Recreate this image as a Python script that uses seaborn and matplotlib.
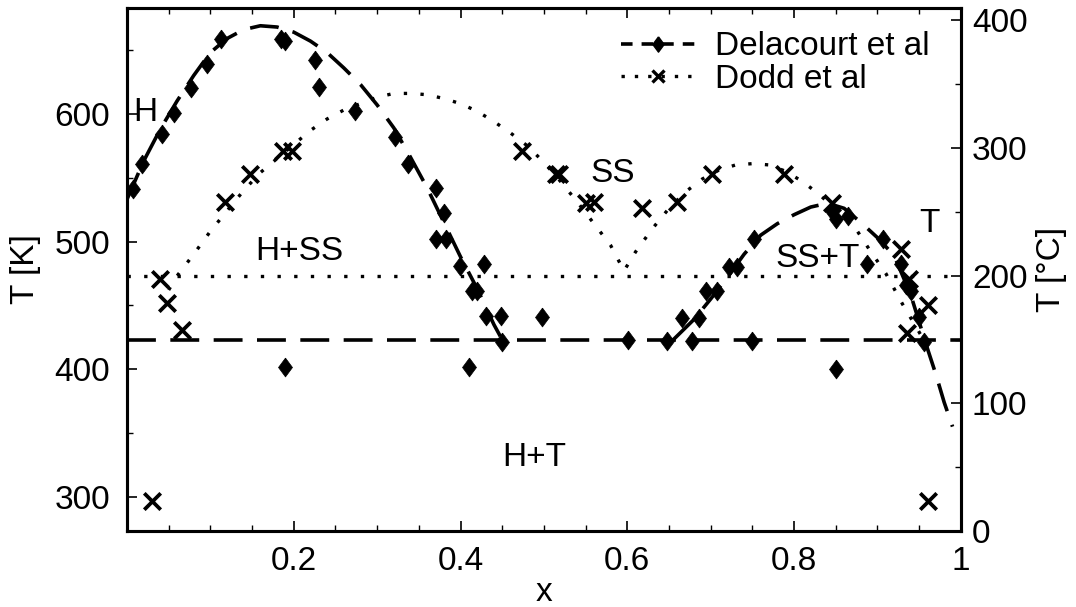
import matplotlib
matplotlib.use("Agg")
import matplotlib.pyplot as plt
from matplotlib.lines import Line2D
from matplotlib.ticker import MultipleLocator, FixedLocator
import numpy as np
import pandas as pd
import seaborn as sns

# ---- Delacourt et al: measured points (x, T in K)
delacourt_x = [0.007, 0.018, 0.042, 0.056, 0.077, 0.096, 0.113, 0.185, 0.190,
               0.226, 0.230, 0.273, 0.322, 0.337, 0.370, 0.380, 0.371, 0.383,
               0.399, 0.428, 0.414, 0.420, 0.431, 0.449, 0.450, 0.498, 0.190,
               0.410, 0.601, 0.648, 0.678, 0.749, 0.665, 0.686, 0.694, 0.707,
               0.722, 0.732, 0.752, 0.845, 0.850, 0.865, 0.907, 0.887, 0.928,
               0.934, 0.940, 0.950, 0.956, 0.850]
delacourt_T = [541, 561, 584, 601, 620, 639, 659, 659, 657,
               642, 621, 602, 582, 561, 542, 522, 502, 502,
               481, 482, 461, 461, 442, 442, 421, 441, 402,
               402, 423, 422, 422, 422, 440, 440, 461, 461,
               480, 480, 502, 524, 518, 520, 502, 482, 482,
               466, 461, 441, 421, 400]

# Delacourt et al: phase boundary traces (x, T in K)
delacourt_left_x = [0.0, 0.02, 0.04, 0.06, 0.08, 0.10, 0.12, 0.14, 0.16, 0.18,
                    0.20, 0.22, 0.24, 0.26, 0.28, 0.30, 0.32, 0.34, 0.36, 0.38,
                    0.40, 0.42, 0.44, 0.45]
delacourt_left_T = [533, 563, 588, 610, 630, 648, 659, 666, 669, 668,
                    664, 657, 648, 636, 623, 607, 589, 566, 542, 515,
                    488, 463, 435, 423]
delacourt_right_x = [0.655, 0.68, 0.70, 0.72, 0.74, 0.76, 0.78, 0.80, 0.82,
                     0.84, 0.86, 0.88, 0.90, 0.92, 0.94, 0.95, 0.96, 0.97,
                     0.98, 0.99]
delacourt_right_T = [423, 439, 455, 472, 490, 505, 514, 521, 527,
                     530, 526, 515, 503, 489, 458, 437, 416, 396,
                     374, 355]
delacourt_eutectic_T = 423

# ---- Dodd et al: measured points (x, T in K)
dodd_x = [0.030, 0.040, 0.048, 0.066, 0.117, 0.147, 0.187, 0.198, 0.474,
          0.515, 0.518, 0.551, 0.560, 0.618, 0.659, 0.702, 0.788, 0.846,
          0.928, 0.938, 0.960, 0.935, 0.960]
dodd_T = [297, 471, 452, 431, 531, 553, 571, 571, 571,
          553, 553, 530, 531, 526, 531, 553, 553, 530,
          494, 471, 450, 428, 297]

# Dodd et al: phase boundary trace (x, T in K)
dodd_curve_x = [0.05, 0.06, 0.08, 0.10, 0.12, 0.14, 0.16, 0.18, 0.20, 0.22,
                0.24, 0.26, 0.28, 0.30, 0.32, 0.34, 0.36, 0.38, 0.40, 0.42,
                0.44, 0.46, 0.48, 0.50, 0.52, 0.54, 0.56, 0.58, 0.596, 0.61,
                0.63, 0.65, 0.67, 0.69, 0.71, 0.73, 0.75, 0.77, 0.79, 0.81,
                0.83, 0.85, 0.87, 0.89, 0.91, 0.93, 0.95, 0.96]
dodd_curve_T = [462, 473, 490, 508, 524, 540, 554, 565, 576, 587,
                596, 603, 608, 613, 616, 616, 615, 612, 608, 602,
                594, 585, 575, 562, 547, 531, 514, 497, 477, 492,
                510, 526, 539, 549, 556, 560, 561, 560, 555, 547,
                537, 525, 514, 494, 475, 451, 429, 418]
dodd_eutectic_T = 473

# ---- phase region labels
region_labels = ["H", "H+SS", "SS", "SS+T", "T", "H+T"]
region_x = [0.007, 0.207, 0.582, 0.828, 0.962, 0.489]
region_T = [601, 492, 553, 487, 514, 331]

KELVIN = 273.15
T_LIMITS = (273.15, 683.0)

sns.set_theme(style="ticks")
plt.rcParams["font.family"] = ["Liberation Sans", "DejaVu Sans"]
plt.rcParams.update({
    "axes.linewidth": 2.2,
    "text.color": "black",
    "axes.labelcolor": "black",
    "axes.edgecolor": "black",
    "xtick.color": "black",
    "ytick.color": "black",
})

FS = 24
fig = plt.figure(figsize=(10.76, 6.07), dpi=100)
ax = fig.add_axes([0.118, 0.125, 0.775, 0.862])

dash = (0, (8, 4))
dot = (0, (1, 4))

# diamond a little narrower than it is tall
diamond = [(0, 1), (0.74, 0), (0, -1), (-0.74, 0), (0, 1)]

# boundary traces
sns.lineplot(x=delacourt_left_x, y=delacourt_left_T, ax=ax, sort=False,
             color="black", lw=2.6, linestyle=dash, estimator=None)
sns.lineplot(x=delacourt_right_x, y=delacourt_right_T, ax=ax, sort=False,
             color="black", lw=2.6, linestyle=dash, estimator=None)
sns.lineplot(x=dodd_curve_x, y=dodd_curve_T, ax=ax, sort=False,
             color="black", lw=2.4, linestyle=dot, estimator=None)
ax.axhline(delacourt_eutectic_T, color="black", lw=2.6, linestyle=dash)
ax.axhline(dodd_eutectic_T, color="black", lw=2.4, linestyle=dot)

# measured points
sns.scatterplot(x=delacourt_x, y=delacourt_T, ax=ax, marker=diamond, s=185,
                color="black", edgecolor="black", linewidth=0.5, zorder=5)
sns.scatterplot(x=dodd_x, y=dodd_T, ax=ax, marker="x", s=140,
                color="black", linewidth=2.7, zorder=5)

for lab, rx, rt in zip(region_labels, region_x, region_T):
    ha = "left" if lab == "H" else "center"
    ax.text(rx, rt, lab, fontsize=FS, ha=ha, va="center", color="black")

ax.set_xlim(0, 1)
ax.set_ylim(*T_LIMITS)
ax.xaxis.set_major_locator(FixedLocator([0.2, 0.4, 0.6, 0.8, 1.0]))
ax.set_xticklabels(["0.2", "0.4", "0.6", "0.8", "1"])
ax.xaxis.set_minor_locator(MultipleLocator(0.05))
ax.yaxis.set_major_locator(FixedLocator([300, 400, 500, 600]))
ax.yaxis.set_minor_locator(MultipleLocator(50))
ax.tick_params(axis="both", which="major", direction="in", length=7,
               width=1.2, labelsize=FS, top=True, right=False)
ax.tick_params(axis="x", which="major", pad=11)
ax.tick_params(axis="y", which="major", pad=12)
ax.tick_params(axis="both", which="minor", direction="in", length=4,
               width=1.0, top=True, right=False)
ax.set_xlabel("x", fontsize=FS, labelpad=0)
ax.set_ylabel("T [K]", fontsize=FS, labelpad=10)

# Celsius scale on the right
ax2 = ax.twinx()
ax2.set_ylim(T_LIMITS[0] - KELVIN, T_LIMITS[1] - KELVIN)
ax2.yaxis.set_major_locator(FixedLocator([0, 100, 200, 300, 400]))
ax2.yaxis.set_minor_locator(MultipleLocator(50))
ax2.tick_params(axis="y", which="major", direction="in", length=7,
                width=1.2, labelsize=FS, pad=8)
ax2.tick_params(axis="y", which="minor", direction="in", length=4, width=1.0)
ax2.set_ylabel("T [°C]", fontsize=FS, labelpad=6)
ax2.grid(False)

handles = [
    Line2D([], [], color="black", lw=2.6, linestyle=(0, (3.2, 2.5)),
           marker=diamond, markersize=11),
    Line2D([], [], color="black", lw=2.4, linestyle=(0, (1, 3)),
           marker="x", markersize=9, markeredgewidth=2.4),
]
ax.legend(handles, ["Delacourt et al", "Dodd et al"], loc="upper right",
          frameon=False, fontsize=FS, handlelength=2.2, handletextpad=0.6,
          labelspacing=0.05, borderaxespad=0.3, bbox_to_anchor=(0.99, 1.0))

fig.savefig("out.png", dpi=100, facecolor="white")
